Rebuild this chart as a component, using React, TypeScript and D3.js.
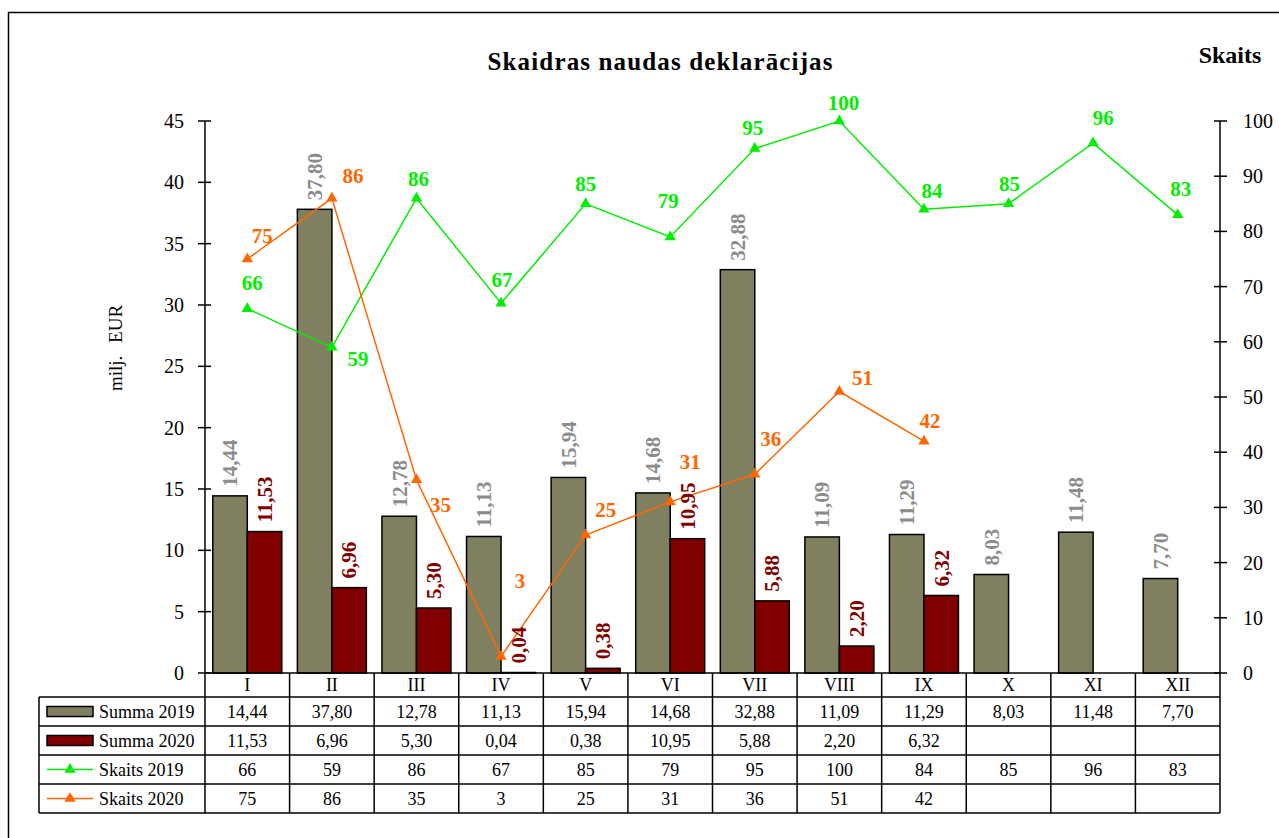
import React from "react";
import * as d3 from "d3";

const months = ["I", "II", "III", "IV", "V", "VI", "VII", "VIII", "IX", "X", "XI", "XII"];
const summa2019 = [14.44, 37.8, 12.78, 11.13, 15.94, 14.68, 32.88, 11.09, 11.29, 8.03, 11.48, 7.7];
const summa2020: (number | null)[] = [11.53, 6.96, 5.3, 0.04, 0.38, 10.95, 5.88, 2.2, 6.32, null, null, null];
const skaits2019 = [66, 59, 86, 67, 85, 79, 95, 100, 84, 85, 96, 83];
const skaits2020: (number | null)[] = [75, 86, 35, 3, 25, 31, 36, 51, 42, null, null, null];
const leftTicks = [0, 5, 10, 15, 20, 25, 30, 35, 40, 45];
const rightTicks = [0, 10, 20, 30, 40, 50, 60, 70, 80, 90, 100];

// label layout offsets (px) relative to marker
const g19Off = [[5, -26], [26, 11], [2, -20], [1, -24], [0, -20], [-2, -36], [-2, -21], [4, -18], [8, -19], [1, -20], [10, -25], [3, -26]];
const o20Off = [[15, -23], [21, -23], [24, 25], [19, -76], [20, -25], [20, -40], [16, -36], [23, -14], [6, -21]];

const fmt = (v: number) => v.toFixed(2).replace(".", ",");

const W = 1279, H = 838;
const L = 205, R = 1220, T = 121, B = 673;
const C_OLIVE = "#808060";
const C_MAROON = "#800000";
const C_GREEN = "#00ee00";
const C_ORANGE = "#ff6600";
const C_GRAY = "#8c8c8c";
const FONT = "'Liberation Serif', 'Times New Roman', serif";

export default function App() {
  const x = d3.scaleBand<string>().domain(months).range([L, R]).padding(0);
  const x1 = d3.scaleBand<string>().domain(["a", "b"]).range([0, x.bandwidth()]).paddingInner(0).paddingOuter(0.226);
  const yL = d3.scaleLinear().domain([0, 45]).range([B, T]);
  const yR = d3.scaleLinear().domain([0, 100]).range([B, T]);
  const cx = (i: number) => (x(months[i]) as number) + x.bandwidth() / 2;
  const tri = d3.symbol().type(d3.symbolTriangle).size(55)() as string;

  const line = d3.line<[number, number]>().x((d) => d[0]).y((d) => d[1]);
  const g19pts: [number, number][] = skaits2019.map((v, i) => [cx(i), yR(v)]);
  const o20pts: [number, number][] = skaits2020
    .map((v, i) => (v == null ? null : ([cx(i), yR(v)] as [number, number])))
    .filter((d) => d != null) as [number, number][];

  const rowTop = 697;
  const rowH = 29;
  const legendL = 39;
  const rows = [
    { name: "Summa 2019", vals: summa2019.map((v) => fmt(v)), kind: "bar", color: C_OLIVE },
    { name: "Summa 2020", vals: summa2020.map((v) => (v == null ? "" : fmt(v))), kind: "bar", color: C_MAROON },
    { name: "Skaits 2019", vals: skaits2019.map((v) => String(v)), kind: "line", color: C_GREEN },
    { name: "Skaits 2020", vals: skaits2020.map((v) => (v == null ? "" : String(v))), kind: "line", color: C_ORANGE },
  ];
  const tableBottom = rowTop + rowH * rows.length;

  return (
    <svg width={W} height={H} style={{ position: "absolute", left: 0, top: 0, background: "#fff" }} fontFamily={FONT}>
      <rect x={8.5} y={12.5} width={W + 20} height={H + 20} fill="#fff" stroke="#000" strokeWidth={1.5} />

      <text x={660} y={70} textAnchor="middle" fontSize={25} fontWeight="bold" textLength={345} lengthAdjust="spacing">
        Skaidras naudas deklarācijas
      </text>
      <text x={1230} y={63} textAnchor="middle" fontSize={24} fontWeight="bold">Skaits</text>
      <text transform={`translate(122,348) rotate(-90)`} textAnchor="middle" fontSize={19} wordSpacing={8}>
        milj. EUR
      </text>

      {/* bars */}
      {months.map((m, i) => (
        <g key={m}>
          <rect x={(x(m) as number) + (x1("a") as number)} y={yL(summa2019[i])} width={x1.bandwidth()} height={B - yL(summa2019[i])}
            fill={C_OLIVE} stroke="#000" strokeWidth={1.5} />
          {summa2020[i] != null && (
            <rect x={(x(m) as number) + (x1("b") as number)} y={yL(summa2020[i] as number)} width={x1.bandwidth()}
              height={B - yL(summa2020[i] as number)} fill={C_MAROON} stroke="#000" strokeWidth={1.5} />
          )}
        </g>
      ))}

      {/* axes */}
      <line x1={L} x2={L} y1={T} y2={B} stroke="#000" strokeWidth={1.5} />
      {leftTicks.map((t) => (
        <g key={"l" + t}>
          <line x1={L - 7} x2={L + 6} y1={yL(t)} y2={yL(t)} stroke="#000" strokeWidth={1.5} />
          <text x={184} y={yL(t)} dy="0.35em" textAnchor="end" fontSize={20}>{t}</text>
        </g>
      ))}
      <line x1={R} x2={R} y1={T} y2={B} stroke="#000" strokeWidth={1.5} />
      {rightTicks.map((t) => (
        <g key={"r" + t}>
          <line x1={R - 6} x2={R + 7} y1={yR(t)} y2={yR(t)} stroke="#000" strokeWidth={1.5} />
          <text x={1243} y={yR(t)} dy="0.35em" textAnchor="start" fontSize={20}>{t}</text>
        </g>
      ))}

      {/* lines */}
      <path d={line(g19pts) as string} fill="none" stroke={C_GREEN} strokeWidth={1.5} />
      <path d={line(o20pts) as string} fill="none" stroke={C_ORANGE} strokeWidth={1.5} />
      {g19pts.map((p, i) => (
        <path key={"gm" + i} d={tri} transform={`translate(${p[0]},${p[1]})`} fill={C_GREEN} />
      ))}
      {o20pts.map((p, i) => (
        <path key={"om" + i} d={tri} transform={`translate(${p[0]},${p[1]})`} fill={C_ORANGE} />
      ))}

      {/* bar labels */}
      {months.map((m, i) => {
        const bx = (x(m) as number) + (x1("a") as number) + x1.bandwidth() / 2;
        const by = yL(summa2019[i]) - 9;
        return (
          <text key={"bl" + i} transform={`translate(${bx},${by}) rotate(-90)`} dy="0.35em" fontSize={21} fontWeight="bold" fill={C_GRAY}>
            {fmt(summa2019[i])}
          </text>
        );
      })}
      {months.map((m, i) => {
        const v = summa2020[i];
        if (v == null) return null;
        const bx = (x(m) as number) + (x1("b") as number) + x1.bandwidth() / 2;
        const by = yL(v) - 9;
        return (
          <text key={"bl2" + i} transform={`translate(${bx},${by}) rotate(-90)`} dy="0.35em" fontSize={21} fontWeight="bold" fill={C_MAROON}>
            {fmt(v)}
          </text>
        );
      })}

      {/* line labels */}
      {g19pts.map((p, i) => (
        <text key={"gl" + i} x={p[0] + g19Off[i][0]} y={p[1] + g19Off[i][1]} dy="0.35em" textAnchor="middle" fontSize={21} fontWeight="bold" fill={C_GREEN}>
          {skaits2019[i]}
        </text>
      ))}
      {o20pts.map((p, i) => (
        <text key={"ol" + i} x={p[0] + o20Off[i][0]} y={p[1] + o20Off[i][1]} dy="0.35em" textAnchor="middle" fontSize={21} fontWeight="bold" fill={C_ORANGE}>
          {skaits2020[i]}
        </text>
      ))}

      {/* data table */}
      <g stroke="#000" strokeWidth={1.5}>
        <line x1={L} x2={R} y1={B} y2={B} />
        <line x1={legendL} x2={R} y1={rowTop} y2={rowTop} />
        {rows.map((_, r) => (
          <line key={"h" + r} x1={legendL} x2={R} y1={rowTop + rowH * (r + 1)} y2={rowTop + rowH * (r + 1)} />
        ))}
        <line x1={legendL} x2={legendL} y1={rowTop} y2={tableBottom} />
        {months.map((m) => (
          <line key={"v" + m} x1={x(m) as number} x2={x(m) as number} y1={B} y2={tableBottom} />
        ))}
        <line x1={R} x2={R} y1={B} y2={tableBottom} />
      </g>
      {months.map((m, i) => (
        <text key={"mh" + m} x={cx(i)} y={B + 12} dy="0.35em" textAnchor="middle" fontSize={18}>{m}</text>
      ))}
      {rows.map((row, r) => {
        const yc = rowTop + rowH * r + rowH / 2;
        return (
          <g key={"row" + r}>
            {row.kind === "bar" ? (
              <rect x={47} y={yc - 5} width={46} height={10} fill={row.color} stroke="#000" strokeWidth={1.5} />
            ) : (
              <g>
                <line x1={47} x2={93} y1={yc} y2={yc} stroke={row.color} strokeWidth={1.5} />
                <path d={tri} transform={`translate(70,${yc})`} fill={row.color} />
              </g>
            )}
            <text x={99} y={yc} dy="0.35em" fontSize={18}>{row.name}</text>
            {row.vals.map((v, i) => (
              <text key={"c" + i} x={cx(i)} y={yc} dy="0.35em" textAnchor="middle" fontSize={18}>{v}</text>
            ))}
          </g>
        );
      })}
    </svg>
  );
}
